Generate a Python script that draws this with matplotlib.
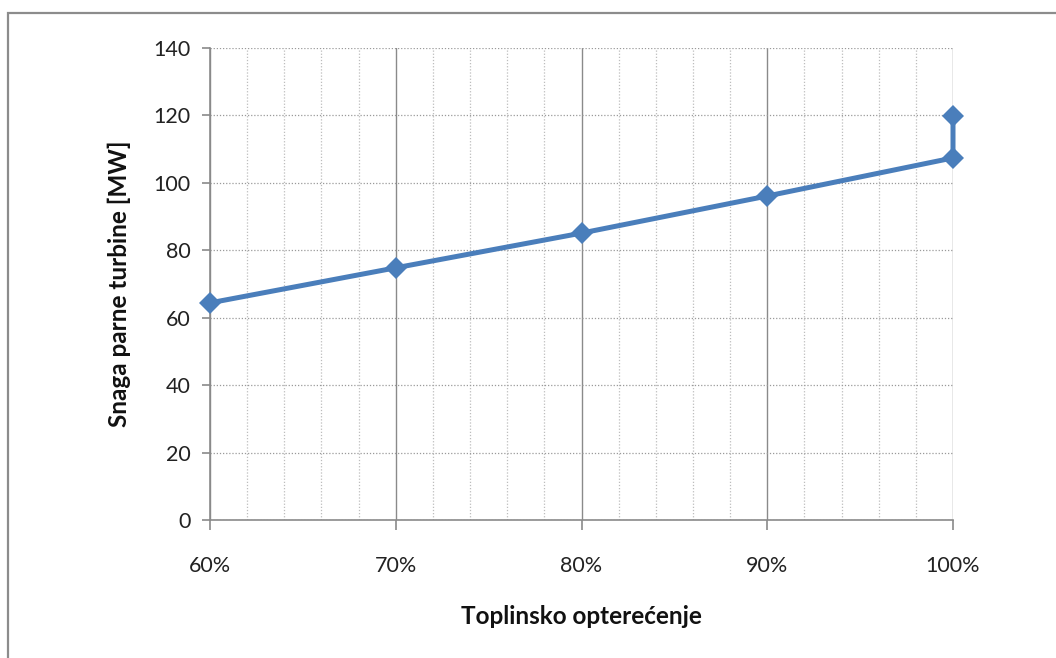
import matplotlib
matplotlib.use("Agg")
import matplotlib.pyplot as plt
from matplotlib.patches import Rectangle
from matplotlib.ticker import MultipleLocator, FuncFormatter

plt.rcParams['font.family'] = ['Lato', 'DejaVu Sans']

# Heat load (fraction) and steam turbine power (MW)
load = [0.60, 0.70, 0.80, 0.90, 1.00, 1.00]
power = [64.4, 74.8, 85.1, 96.1, 107.4, 119.8]

x_label = "Toplinsko opterećenje"
y_label = "Snaga parne turbine [MW]"

W, H = 1056, 658
fig = plt.figure(figsize=(W / 100, H / 100), dpi=100)
fig.patch.set_facecolor("white")

# outer chart frame
fig.patches.append(Rectangle((8 / W, -0.1), 1.2, (H - 13) / H + 0.1,
                             transform=fig.transFigure, fill=False,
                             edgecolor="#8c8c8c", linewidth=1.6))

ax = fig.add_axes([210 / W, (H - 520) / H, (953 - 210) / W, (520 - 48) / H])
ax.set_xlim(0.6, 1.0)
ax.set_ylim(0, 140)

ax.xaxis.set_major_locator(MultipleLocator(0.1))
ax.xaxis.set_minor_locator(MultipleLocator(0.02))
ax.yaxis.set_major_locator(MultipleLocator(20))
ax.xaxis.set_major_formatter(FuncFormatter(lambda v, p: f"{v * 100:.0f}%"))

ax.grid(True, which="major", axis="x", color="#8a8a8a", linestyle="-", linewidth=1.0)
ax.grid(True, which="minor", axis="x", color="#bdbdbd", linestyle=(0, (1, 1.5)), linewidth=0.9)
ax.grid(True, which="major", axis="y", color="#9a9a9a", linestyle=(0, (1, 1.5)), linewidth=0.9)
ax.set_axisbelow(True)

for side in ("top", "right"):
    ax.spines[side].set_visible(False)
for side in ("left", "bottom"):
    ax.spines[side].set_color("#8a8a8a")
    ax.spines[side].set_linewidth(1.2)

ax.tick_params(axis="x", which="major", length=7, width=1.2, color="#8a8a8a",
               pad=19, labelsize=15.5, labelcolor="#222222")
ax.tick_params(axis="x", which="minor", length=0)
ax.tick_params(axis="y", which="major", length=6, width=1.2, color="#8a8a8a",
               pad=8, labelsize=15.5, labelcolor="#222222")

ax.plot(load, power, color="#4a7ebb", linewidth=3.6, marker="D",
        markersize=11, markeredgewidth=0, clip_on=False, zorder=3)

ax.set_xlabel(x_label, fontsize=17.5, fontweight="bold", labelpad=21, color="#111111")
ax.set_ylabel(y_label, fontsize=17.5, fontweight="bold", labelpad=16, color="#111111")

fig.savefig("out.png", dpi=100, facecolor="white")
